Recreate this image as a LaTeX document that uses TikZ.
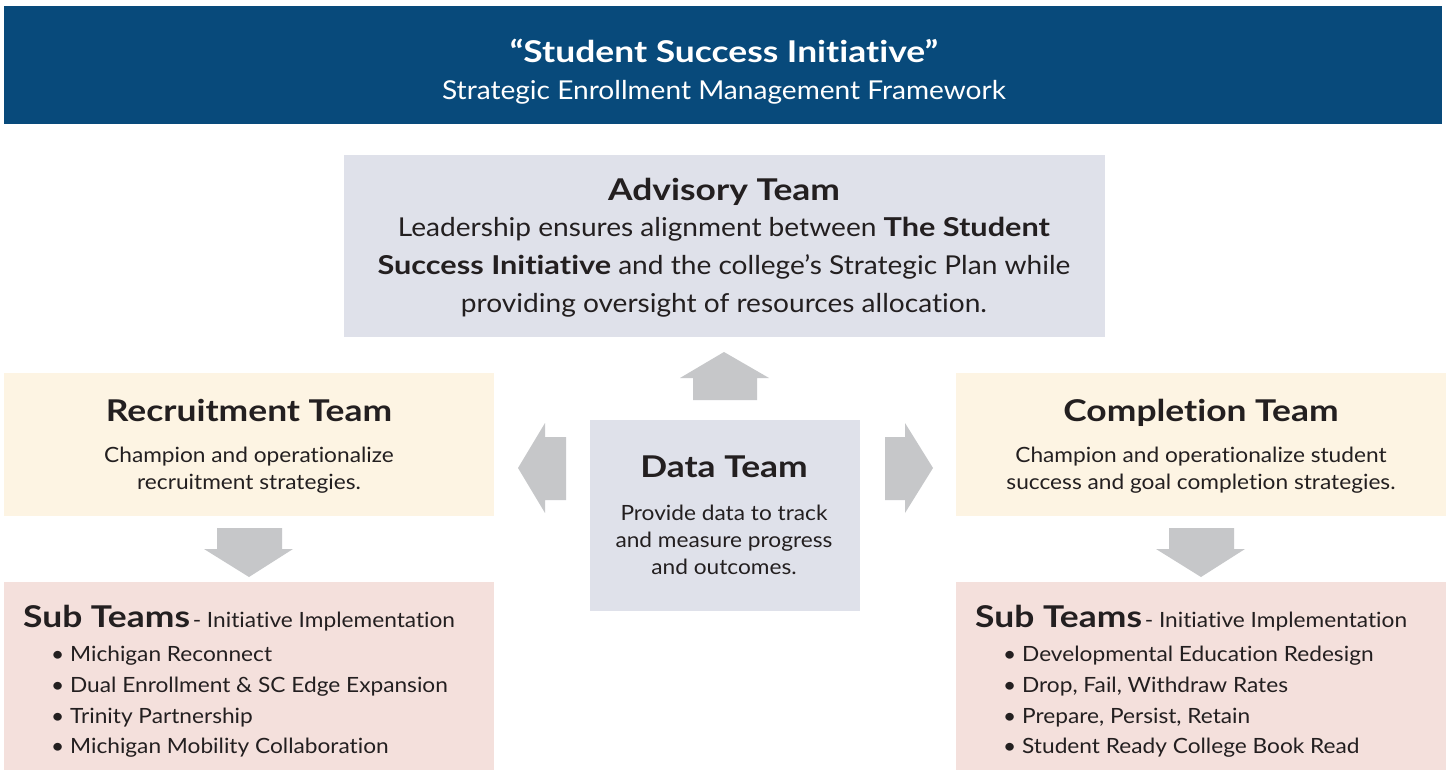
\documentclass[tikz,border=0pt]{standalone}
\usepackage{fontspec}
\setmainfont{Lato}[Ligatures=NoCommon, FakeStretch=1.08, BoldFeatures={FakeStretch=1.18}]
\definecolor{hdr}{HTML}{084A7B}
\definecolor{advc}{HTML}{DFE1EA}
\definecolor{cream}{HTML}{FDF4E3}
\definecolor{pinkc}{HTML}{F4E0DC}
\definecolor{arr}{HTML}{C6C7C9}
\definecolor{ink}{HTML}{231F20}
\begin{document}
\begin{tikzpicture}[x=1pt,y=-1pt,
  box/.style={draw=none,inner sep=0pt,outer sep=0pt,anchor=north west},
  ttl/.style={text=ink,font=\fontsize{30}{32}\selectfont\bfseries,inner sep=0pt,anchor=base},
  bodytxt/.style={text=ink,font=\fontsize{21}{27}\selectfont,align=center,inner sep=0pt},
  bul/.style={text=ink,font=\fontsize{21}{24}\selectfont,anchor=base west,inner sep=0pt},
  blk/.style={fill=arr,draw=none}]
\useasboundingbox (0,0) rectangle (1446,770);
\fill[white] (0,0) rectangle (1446,770);
% boxes
\node[box,fill=hdr,minimum width=1438pt,minimum height=118pt] (hdr) at (4,6) {};
\node[box,fill=advc,minimum width=761pt,minimum height=182pt] (adv) at (344,155) {};
\node[box,fill=advc,minimum width=270pt,minimum height=191pt] (data) at (590,420) {};
\node[box,fill=cream,minimum width=490pt,minimum height=143pt] (rec) at (4,373) {};
\node[box,fill=cream,minimum width=490pt,minimum height=143pt] (comp) at (956,373) {};
\node[box,fill=pinkc,minimum width=490pt,minimum height=188pt] (subL) at (4,582) {};
\node[box,fill=pinkc,minimum width=490pt,minimum height=188pt] (subR) at (956,582) {};
% header text
\node[text=white,font=\fontsize{30}{32}\selectfont\bfseries,inner sep=0pt] (t1) at (724,51) {“Student Success Initiative”};
\node[text=white,font=\fontsize{26}{30}\selectfont,inner sep=0pt] (t2) at (724,92) {Strategic Enrollment Management Framework};
% advisory
\node[ttl] (advT) at (724,201) {Advisory Team};
\node[bodytxt,font=\fontsize{26}{38}\selectfont] (advB) at (724,267) {Leadership ensures alignment between \textbf{The Student}\\\textbf{Success Initiative} and the college’s Strategic Plan while\\providing oversight of resources allocation.};
% data
\node[ttl] (dataT) at (724,477) {Data Team};
\node[bodytxt] (dataB) at (724,540) {Provide data to track\\and measure progress\\and outcomes.};
% recruitment / completion
\node[ttl] (recT) at (249,421) {Recruitment Team};
\node[bodytxt] (recB) at (249,470) {Champion and operationalize\\recruitment strategies.};
\node[ttl] (compT) at (1201,421) {Completion Team};
\node[bodytxt] (compB) at (1201,470) {Champion and operationalize student\\success and goal completion strategies.};
% sub teams left
\node[anchor=base west,inner sep=0pt,text=ink] (subLT) at (23,627) {{\fontsize{30}{32}\selectfont\bfseries Sub Teams} {\fontsize{21}{24}\selectfont - Initiative Implementation}};
\node[bul] (l1) at (51,661) {• Michigan Reconnect};
\node[bul] (l2) at (51,692) {• Dual Enrollment \& SC Edge Expansion};
\node[bul] (l3) at (51,723) {• Trinity Partnership};
\node[bul] (l4) at (51,753) {• Michigan Mobility Collaboration};
% sub teams right
\node[anchor=base west,inner sep=0pt,text=ink] (subRT) at (975,627) {{\fontsize{30}{32}\selectfont\bfseries Sub Teams} {\fontsize{21}{24}\selectfont - Initiative Implementation}};
\node[bul] (r1) at (1003,661) {• Developmental Education Redesign};
\node[bul] (r2) at (1003,692) {• Drop, Fail, Withdraw Rates};
\node[bul] (r3) at (1003,723) {• Prepare, Persist, Retain};
\node[bul] (r4) at (1003,753) {• Student Ready College Book Read};
% block arrows
\fill[blk] (693,400) -- (693,378) -- (680,378) -- (724,352) -- (769,378) -- (757,378) -- (757,400) -- cycle;
\fill[blk] (566,437) -- (545,437) -- (545,423) -- (518,468) -- (545,513) -- (545,500) -- (566,500) -- cycle;
\fill[blk] (885,437) -- (905,437) -- (905,423) -- (933,468) -- (905,513) -- (905,500) -- (885,500) -- cycle;
\fill[blk] (217,528) -- (282,528) -- (282,549) -- (293,549) -- (249,577) -- (204,549) -- (217,549) -- cycle;
\fill[blk] (1169,528) -- (1234,528) -- (1234,549) -- (1245,549) -- (1201,577) -- (1156,549) -- (1169,549) -- cycle;
\end{tikzpicture}
\end{document}
